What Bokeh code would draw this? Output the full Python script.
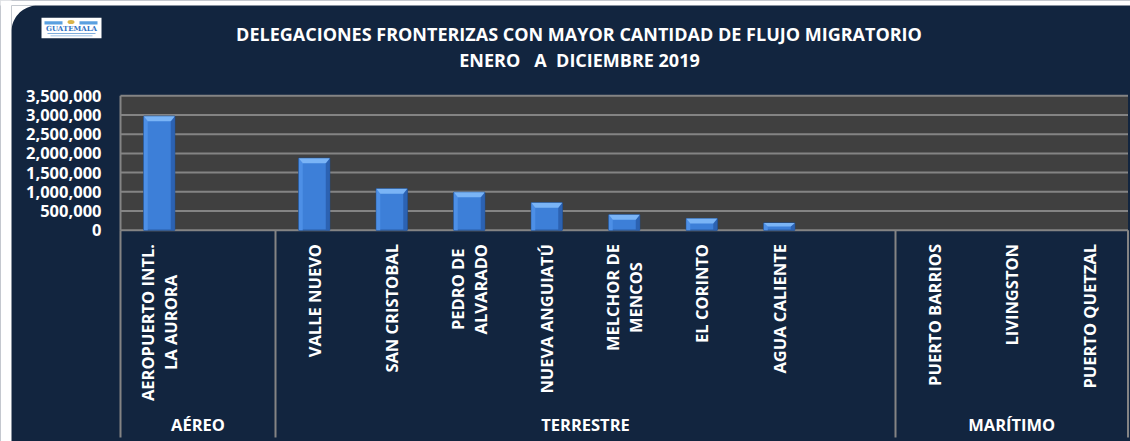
import re
import numpy as np
from bokeh.plotting import figure
from bokeh.models import Range1d
from bokeh.core.properties import value
from bokeh.embed import file_html
from bokeh.resources import INLINE

# ---------------- data ----------------
title_lines = ["DELEGACIONES FRONTERIZAS CON MAYOR CANTIDAD DE FLUJO MIGRATORIO",
               "ENERO   A  DICIEMBRE 2019"]
groups = ["AÉREO", "TERRESTRE", "MARÍTIMO"]
group_slots = [2, 8, 3]          # category slots per group (incl. empty ones)
categories = ["AEROPUERTO INTL.\nLA AURORA", "",
              "VALLE NUEVO", "SAN CRISTOBAL", "PEDRO DE\nALVARADO", "NUEVA ANGUIATÚ",
              "MELCHOR DE\nMENCOS", "EL CORINTO", "AGUA CALIENTE", "",
              "PUERTO BARRIOS", "LIVINGSTON", "PUERTO QUETZAL"]
values = [2970000, 0,
          1875000, 1080000, 990000, 715000, 400000, 305000, 190000, 0,
          0, 0, 0]
y_ticks = [0, 500000, 1000000, 1500000, 2000000, 2500000, 3000000, 3500000]

# ---------------- layout helpers (page pixels -> data) ----------------
W, H = 1130, 441
OFF = 0
PL = 120.0      # page x of plot-area left edge
SW = 77.5       # px per category slot
Y0 = 229.7      # page y of value 0
PPU = 38.4e-6   # px per unit value


def X(px):
    return (px - PL) / SW


def Y(py):
    return (Y0 - py) / PPU


NAVY = "#12253F"
GRID = "#848484"
FONT = value("Open Sans")

p = figure(width=W, height=H, output_backend="svg", toolbar_location=None,
           x_axis_type=None, y_axis_type=None,
           x_range=Range1d(X(OFF), X(OFF + W)), y_range=Range1d(Y(OFF + H), Y(OFF)),
           min_border=0, background_fill_color=NAVY, border_fill_color=NAVY)
p.outline_line_color = None
p.grid.visible = False

n = len(categories)
ymax = y_ticks[-1]

# white surround with rounded top-left corner
cx, cy, r = 11 + 26, 5 + 26, 26
ang = np.linspace(np.pi * 1.5, np.pi, 20)
cxs = [11, 11 + r] + list(cx + r * np.cos(ang)) + [11]
cys = [5, 5] + list(cy + r * np.sin(ang)) + [5]
p.patch([X(v) for v in cxs], [Y(v) for v in cys], fill_color="white", line_color=None)
p.quad(left=X(-5), right=X(11), bottom=Y(450), top=Y(-5), fill_color="white", line_color=None)
p.quad(left=X(-5), right=X(1140), bottom=Y(5), top=Y(-5), fill_color="white", line_color=None)

# plot area
p.quad(left=0, right=n, bottom=0, top=ymax, fill_color="#404040", line_color=None)
p.segment(x0=[0] * len(y_ticks), x1=[n] * len(y_ticks), y0=y_ticks, y1=y_ticks,
          line_color=GRID, line_width=2)

# bars
centers = np.arange(n) + 0.5
bw = 0.4
bx = [c for c, v in zip(centers, values) if v > 0]
bv = [v for v in values if v > 0]
p.vbar(x=bx, top=bv, width=bw, bottom=0, fill_color="#3D7FD8",
       line_color="#1E4C8C", line_width=1)
hw = bw / 2
dx = 4 / SW
top_xs, top_ys, l_xs, l_ys, r_xs, r_ys = [], [], [], [], [], []
for c, v in zip(bx, bv):
    dy = min(5 * 1e6 / 38.4, v / 2)
    top_xs.append([c - hw, c + hw, c + hw - dx, c - hw + dx])
    top_ys.append([v, v, v - dy, v - dy])
    l_xs.append([c - hw, c - hw + dx, c - hw + dx, c - hw])
    l_ys.append([v, v - dy, 0, 0])
    r_xs.append([c + hw, c + hw - dx, c + hw - dx, c + hw])
    r_ys.append([v, v - dy, 0, 0])
p.patches(l_xs, l_ys, fill_color="#4D8FE6", line_color=None)
p.patches(r_xs, r_ys, fill_color="#2C62B2", line_color=None)
p.patches(top_xs, top_ys, fill_color="#7AB4F6", line_color=None)

# category axis lines
bounds = [0] + list(np.cumsum(group_slots))
p.segment(x0=bounds, x1=bounds, y0=[0] * len(bounds), y1=[Y(437)] * len(bounds),
          line_color=GRID, line_width=2)
p.segment(x0=[0], x1=[0], y0=[0], y1=[ymax], line_color=GRID, line_width=2)

# y tick labels
p.text(x=[X(101)] * len(y_ticks), y=y_ticks, text=[f"{t:,}" for t in y_ticks],
       text_align="right", text_baseline="middle", text_color="white",
       text_font=FONT, text_font_style="bold", text_font_size="16.5px")

# category labels (rotated)
lab_x = [c for c, t in zip(centers, categories) if t]
lab_t = [t for t in categories if t]
p.text(x=lab_x, y=[Y(243.5)] * len(lab_x), text=lab_t, angle=np.pi / 2,
       text_align="center", anchor="center_right", text_color="white",
       text_font=FONT, text_font_style="bold", text_font_size="16.5px",
       text_line_height=1.02)

# group labels
gx = [(bounds[i] + bounds[i + 1]) / 2 for i in range(len(groups))]
p.text(x=gx, y=[Y(424)] * len(groups), text=groups, text_align="center",
       text_baseline="middle", text_color="white", text_font=FONT,
       text_font_style="bold", text_font_size="16.5px")

# title (keep the repeated spaces visible)
shown = [re.sub(r" (?= )", "\u00a0", t) for t in title_lines]
p.text(x=[X(578.5), X(579)], y=[Y(33), Y(59.5)], text=shown,
       text_align="center", text_baseline="middle", text_color="white",
       text_font=FONT, text_font_style="bold", text_font_size="18px")

# logo (small badge)
p.quad(left=X(41), right=X(101), bottom=Y(37.7), top=Y(17.3), fill_color="white", line_color=None)
p.quad(left=[X(44), X(79)], right=[X(62), X(97)], bottom=[Y(24)] * 2, top=[Y(20.7)] * 2,
       fill_color="#5AA0E0", line_color=None)
p.ellipse(x=[X(70.5)], y=[Y(21.5)], width=7 / SW, height=4 / (PPU), fill_color="#D9B44A", line_color=None)
p.text(x=[X(71)], y=[Y(28.3)], text=["GUATEMALA"], text_align="center", text_baseline="middle",
       text_color="#2F72C4", text_font=value("DejaVu Serif"), text_font_style="bold", text_font_size="7px")
p.quad(left=[X(47), X(50)], right=[X(95), X(92)], bottom=[Y(33.5), Y(35.8)], top=[Y(32.5), Y(35)],
       fill_color="#7FAEDD", line_color=None)

open("out.html", "w").write(file_html(p, INLINE))
